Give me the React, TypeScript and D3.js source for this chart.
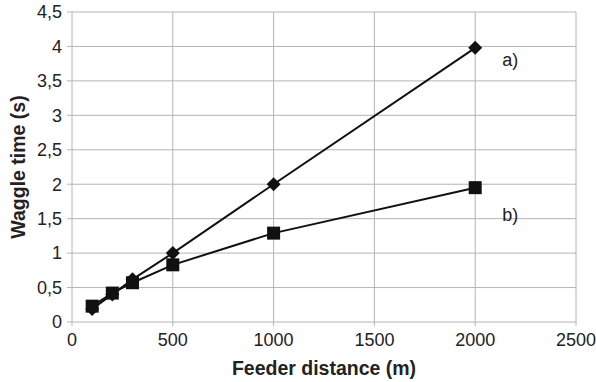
import React from "react";
import * as d3 from "d3";

// Feeder distance (m) for each measurement
const distances = [100, 200, 300, 500, 1000, 2000];
// Waggle time (s) per series
const seriesA = [0.19, 0.4, 0.62, 1.0, 2.0, 3.98];
const seriesB = [0.23, 0.42, 0.57, 0.83, 1.29, 1.95];
// Axis ticks
const xTicks = [0, 500, 1000, 1500, 2000, 2500];
const yTicks = [0, 0.5, 1, 1.5, 2, 2.5, 3, 3.5, 4, 4.5];
const seriesLabels = ["a)", "b)"];

const W = 596;
const H = 382;
const margin = { left: 72, right: 20, top: 12, bottom: 60 };
const FONT = "'Liberation Sans', Arial, Helvetica, sans-serif";
const GRID = "#b4b4b4";

const fmtY = (v: number) => String(v).replace(".", ",");

export default function App() {
  const x = d3.scaleLinear().domain([0, 2500]).range([margin.left, W - margin.right]);
  const y = d3.scaleLinear().domain([0, 4.5]).range([H - margin.bottom, margin.top]);

  const line = d3
    .line<[number, number]>()
    .x((d) => x(d[0]))
    .y((d) => y(d[1]));

  const ptsA: [number, number][] = distances.map((d, i) => [d, seriesA[i]]);
  const ptsB: [number, number][] = distances.map((d, i) => [d, seriesB[i]]);

  const diamond = d3.symbol().type(d3.symbolDiamond2).size(125)()!;
  const sq = 6.5;

  const x0 = x(0);
  const y0 = y(0);
  const lastX = distances[distances.length - 1];

  return (
    <svg
      width={W}
      height={H}
      style={{ position: "absolute", left: 0, top: 0, background: "#fff" }}
      fontFamily={FONT}
    >
      {/* grid */}
      {yTicks.slice(1).map((t) => (
        <line key={"gy" + t} x1={x0} x2={x(2500)} y1={y(t)} y2={y(t)} stroke={GRID} strokeWidth={1} />
      ))}
      {xTicks.slice(1).map((t) => (
        <line key={"gx" + t} x1={x(t)} x2={x(t)} y1={y0} y2={y(4.5)} stroke={GRID} strokeWidth={1} />
      ))}
      {/* axes */}
      <line x1={x0} x2={x0} y1={y0} y2={y(4.5)} stroke={GRID} />
      <line x1={x0} x2={x(2500)} y1={y0} y2={y0} stroke={GRID} />
      {yTicks.map((t) => (
        <g key={"ty" + t}>
          <line x1={x0 - 5} x2={x0} y1={y(t)} y2={y(t)} stroke={GRID} />
          <text x={x0 - 10} y={y(t)} dy="0.35em" textAnchor="end" fontSize={18} fill="#222">
            {fmtY(t)}
          </text>
        </g>
      ))}
      {xTicks.map((t) => (
        <g key={"tx" + t}>
          <line x1={x(t)} x2={x(t)} y1={y0} y2={y0 + 4} stroke={GRID} />
          <text x={x(t)} y={y0 + 24} textAnchor="middle" fontSize={18} fill="#222">
            {t}
          </text>
        </g>
      ))}
      {/* axis titles */}
      <text x={(x0 + x(2500)) / 2} y={375} textAnchor="middle" fontSize={19.5} fontWeight="bold" fill="#222">
        Feeder distance (m)
      </text>
      <text
        transform={`translate(25,${(y0 + y(4.5)) / 2}) rotate(-90)`}
        textAnchor="middle"
        fontSize={19.5}
        fontWeight="bold"
        fill="#222"
      >
        Waggle time (s)
      </text>
      {/* series */}
      <path d={line(ptsA)!} fill="none" stroke="#111" strokeWidth={2} />
      <path d={line(ptsB)!} fill="none" stroke="#111" strokeWidth={2} />
      {ptsB.map((p, i) => (
        <rect key={"b" + i} x={x(p[0]) - sq} y={y(p[1]) - sq} width={sq * 2} height={sq * 2} fill="#111" />
      ))}
      {ptsA.map((p, i) => (
        <path key={"a" + i} d={diamond} transform={`translate(${x(p[0])},${y(p[1])})`} fill="#111" />
      ))}
      {/* series labels */}
      <text x={x(lastX) + 27} y={y(seriesA[seriesA.length - 1]) + 18} fontSize={18} fill="#222">
        {seriesLabels[0]}
      </text>
      <text x={x(lastX) + 27} y={y(seriesB[seriesB.length - 1]) + 33} fontSize={18} fill="#222">
        {seriesLabels[1]}
      </text>
    </svg>
  );
}
